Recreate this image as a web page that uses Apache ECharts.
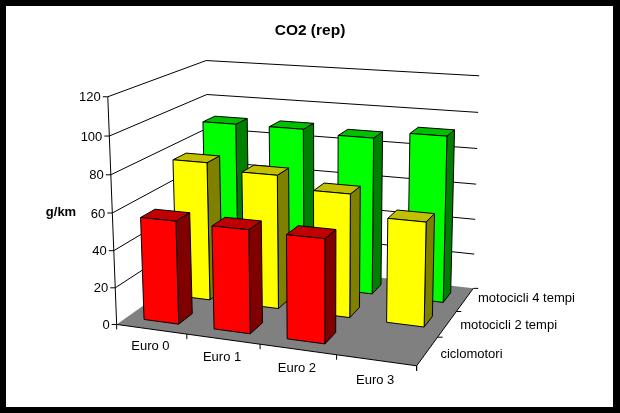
<!DOCTYPE html>
<html><head><meta charset="utf-8">
<style>html,body{margin:0;padding:0;background:#fff}#c{width:620px;height:413px}</style>
<script src="https://cdn.jsdelivr.net/npm/echarts@6/dist/echarts.min.js"></script>
</head><body><div id="c"></div>
<script>
const title = 'CO2 (rep)';
const valueAxisName = 'g/km';
const categories = ['Euro 0', 'Euro 1', 'Euro 2', 'Euro 3'];
const depthNames = ['ciclomotori', 'motocicli 2 tempi', 'motocicli 4 tempi'];
const valueTicks = [0, 20, 40, 60, 80, 100, 120];
const ciclomotori = [55.5, 55, 54.5, null];
const motocicli2 = [77, 73.5, 67, 56];
const motocicli4 = [90, 90, 88, 92];
const seriesValues = [ciclomotori, motocicli2, motocicli4];
const palettes = [
  { front: '#ff0000', side: '#800000', top: '#c00000' },
  { front: '#ffff00', side: '#808000', top: '#c0c000' },
  { front: '#00ff00', side: '#008000', top: '#00c000' }
];
const font = '13px "Liberation Sans", Arial, sans-serif';

// The box's corners on screen: [u (category), v (depth), w (value)] -> [x, y]
const boxCorners = [
  [0,0,0, 118,325],[1,0,0, 416,366],[1,1,0, 474,288],[0,1,0, 209,258],
  [0,0,1, 107,96],[1,1,1, 479,76],[0,1,1, 207,61]
];
function solve(A, b) {
  const n = b.length, M = A.map((r, i) => r.concat(b[i]));
  for (let i = 0; i < n; i++) {
    let p = i;
    for (let k = i + 1; k < n; k++) if (Math.abs(M[k][i]) > Math.abs(M[p][i])) p = k;
    [M[i], M[p]] = [M[p], M[i]];
    for (let k = 0; k < n; k++) if (k !== i) {
      const f = M[k][i] / M[i][i];
      for (let j = i; j <= n; j++) M[k][j] -= f * M[i][j];
    }
  }
  return M.map((r, i) => r[n] / r[i]);
}
const cam = (function () {
  const rows = [], rhs = [];
  boxCorners.forEach(([u, v, w, x, y]) => {
    rows.push([u, v, w, 1, 0, 0, 0, 0, -x * u, -x * v, -x * w]); rhs.push(x);
    rows.push([0, 0, 0, 0, u, v, w, 1, -y * u, -y * v, -y * w]); rhs.push(y);
  });
  const AtA = [], Atb = [];
  for (let i = 0; i < 11; i++) {
    AtA.push([]); let s = 0;
    for (let j = 0; j < 11; j++) {
      let t = 0; rows.forEach(r => t += r[i] * r[j]); AtA[i].push(t);
    }
    rows.forEach((r, k) => s += r[i] * rhs[k]); Atb.push(s);
  }
  return solve(AtA, Atb);
})();
function project(u, v, w) {
  const d = cam[8] * u + cam[9] * v + cam[10] * w + 1;
  return [(cam[0] * u + cam[1] * v + cam[2] * w + cam[3]) / d,
          (cam[4] * u + cam[5] * v + cam[6] * w + cam[7]) / d];
}
const barWidthFrac = 0.5, barDepthFrac = 0.42;
const edge = { stroke: '#000', lineWidth: 1 };

// The hidden cartesian grid is a unit square: its scales turn data into u and w.
const grid = { left: 0, top: 0, width: 400, height: 400 };
function unit(api, cat, val) {
  const p = api.coord([cat, val]);
  return [(p[0] - grid.left) / grid.width, 1 - (p[1] - grid.top) / grid.height];
}
function poly(points, fill, z2, noStroke) {
  return { type: 'polygon', shape: { points }, z2,
    style: noStroke ? { fill } : Object.assign({ fill }, edge) };
}
function line(a, b, z2) {
  return { type: 'line', shape: { x1: a[0], y1: a[1], x2: b[0], y2: b[1] }, z2,
    style: { stroke: '#000', lineWidth: 1, fill: null } };
}
function text(str, x, y, align, extra) {
  return { type: 'text', z2: 50, style: Object.assign({ text: str, x, y, align,
    verticalAlign: 'middle', fill: '#000', font }, extra || {}) };
}
function renderFrame(params, api) {
  if (params.dataIndex !== 0) return null;
  const kids = [];
  const wOf = t => unit(api, 0, t)[1];
  // walls
  valueTicks.forEach(t => {
    const w = wOf(t);
    if (t > 0) {
      kids.push(line(project(0, 0, w), project(0, 1, w), 1));
      kids.push(line(project(0, 1, w), project(1, 1, w), 1));
    }
    const a = project(0, 0, w);
    kids.push(line([a[0] - 5, a[1]], a, 3));
    kids.push(text(String(t), a[0] - 7, a[1] + 1, 'right'));
  });
  kids.push(line(project(0, 0, 0), project(0, 0, 1), 3));
  // floor
  kids.push(poly([project(0, 0, 0), project(1, 0, 0), project(1, 1, 0), project(0, 1, 0)], '#808080', 2, true));
  kids.push(line(project(0, 0, 0), project(1, 0, 0), 3));
  kids.push(line(project(1, 0, 0), project(1, 1, 0), 3));
  // category ticks and labels
  categories.forEach((c, i) => {
    const band = api.size([1, 0])[0] / grid.width;
    const mid = unit(api, i, 0)[0];
    const end = project(mid + band / 2, 0, 0);
    kids.push(line(end, [end[0], end[1] + 5], 3));
    const m = project(mid, 0, 0);
    kids.push(text(c, m[0] - 1, m[1] + 17 + i * 1.2, 'center'));
  });
  // depth ticks and labels
  depthNames.forEach((n, i) => {
    const e = project(1, (i + 1) / depthNames.length, 0);
    kids.push(line(e, [e[0] + 5, e[1]], 3));
    const m = project(1, (i + 0.5) / depthNames.length, 0);
    kids.push(text(n, m[0] + 13, m[1] + 3 - 2 * i, 'left'));
  });
  const f0 = project(0, 0, 0);
  kids.push(line(f0, [f0[0], f0[1] + 5], 3));
  const r0 = project(1, 0, 0);
  kids.push(line(r0, [r0[0], r0[1] + 5], 3));
  return { type: 'group', children: kids };
}
function renderBar(params, api) {
  const cat = api.value(0), val = api.value(1), depth = api.value(2);
  if (isNaN(val)) return null;
  const pal = palettes[depth];
  const band = api.size([1, 0])[0] / grid.width;
  const mid = unit(api, cat, 0)[0];
  const w = unit(api, cat, val)[1];
  const u0 = mid - band * barWidthFrac / 2, u1 = mid + band * barWidthFrac / 2;
  const dn = depthNames.length;
  const v0 = (depth + 0.5 - barDepthFrac / 2) / dn, v1 = (depth + 0.5 + barDepthFrac / 2) / dn;
  const z = 10 + cat;
  return { type: 'group', children: [
    poly([project(u1, v0, 0), project(u1, v1, 0), project(u1, v1, w), project(u1, v0, w)], pal.side, z),
    poly([project(u0, v0, w), project(u1, v0, w), project(u1, v1, w), project(u0, v1, w)], pal.top, z),
    poly([project(u0, v0, 0), project(u1, v0, 0), project(u1, v0, w), project(u0, v0, w)], pal.front, z)
  ] };
}
const barSeries = seriesValues.map((vals, d) => ({ d, vals })).reverse().map(({ d, vals }) => ({
  type: 'custom', name: depthNames[d], coordinateSystem: 'cartesian2d', z: 5 + (2 - d),
  silent: true, clip: false, renderItem: renderBar,
  encode: { x: 0, y: 1 },
  data: vals.map((v, i) => [i, v == null ? '-' : v, d])
}));
const chart = echarts.init(document.getElementById('c'), null, { renderer: 'canvas' });
chart.setOption({
  animation: false,
  backgroundColor: '#000',
  title: { text: title, left: 305, top: 18, textAlign: 'center',
    textStyle: { color: '#000', fontFamily: '"Liberation Sans", Arial, sans-serif', fontWeight: 'bold', fontSize: 15.5 } },
  graphic: [
    { type: 'rect', z: -1, shape: { x: 6, y: 6, width: 607, height: 401 }, style: { fill: '#fff' } },
    { type: 'text', z: 20, style: { text: valueAxisName, x: 61, y: 212, align: 'center', verticalAlign: 'middle',
      fill: '#000', font: 'bold 13px "Liberation Sans", Arial, sans-serif' } }
  ],
  grid: Object.assign({ show: false }, grid),
  xAxis: { type: 'category', data: categories, show: false },
  yAxis: { type: 'value', min: 0, max: 120, interval: 20, show: false },
  series: [{
    type: 'custom', coordinateSystem: 'cartesian2d', z: 2, silent: true, clip: false,
    renderItem: renderFrame, encode: { x: 0, y: 1 }, data: [[0, 0]]
  }].concat(barSeries)
});
</script></body></html>
